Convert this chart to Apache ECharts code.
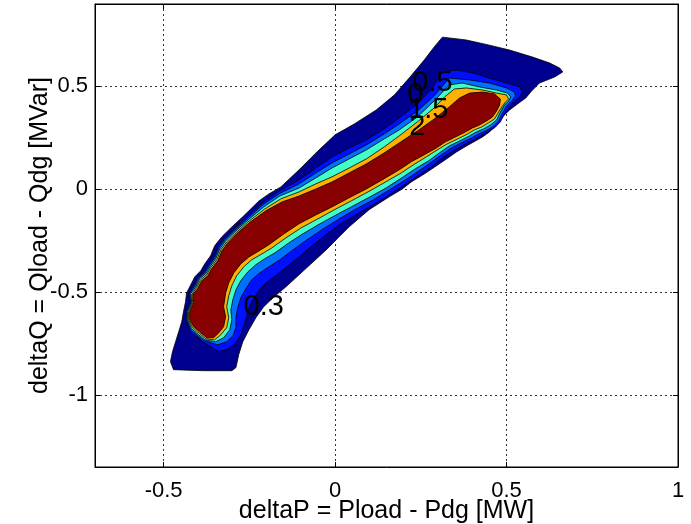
<!DOCTYPE html>
<html>
<head>
<meta charset="utf-8">
<script src="https://cdn.jsdelivr.net/npm/echarts@6/dist/echarts.min.js"></script>
<style>
  html, body { margin: 0; padding: 0; background: #fff; }
  #chart { width: 691px; height: 524px; }
</style>
</head>
<body>
<div id="chart"></div>
<script>
// tick positions
const xTicks = [-0.5, 0, 0.5, 1];
const yTicks = [-1, -0.5, 0, 0.5];

// filled contour regions, outermost first (deltaP, deltaQ)
const region03 = [[-0.471,-0.877],[-0.480,-0.838],[-0.474,-0.790],[-0.465,-0.741],[-0.456,-0.693],[-0.447,-0.644],[-0.442,-0.596],[-0.436,-0.547],[-0.433,-0.504],[-0.421,-0.465],[-0.409,-0.426],[-0.392,-0.397],[-0.380,-0.363],[-0.363,-0.324],[-0.351,-0.275],[-0.330,-0.231],[-0.304,-0.188],[-0.269,-0.134],[-0.222,-0.057],[-0.193,-0.023],[-0.158,0.011],[-0.105,0.094],[-0.053,0.181],[0.000,0.264],[0.056,0.317],[0.120,0.385],[0.173,0.458],[0.216,0.540],[0.260,0.628],[0.289,0.691],[0.313,0.739],[0.383,0.725],[0.450,0.700],[0.509,0.676],[0.576,0.642],[0.626,0.613],[0.655,0.589],[0.664,0.570],[0.640,0.545],[0.596,0.516],[0.573,0.477],[0.556,0.443],[0.532,0.414],[0.509,0.385],[0.488,0.351],[0.471,0.312],[0.450,0.278],[0.430,0.254],[0.409,0.234],[0.383,0.210],[0.354,0.181],[0.325,0.147],[0.295,0.113],[0.260,0.074],[0.222,0.035],[0.196,0.001],[0.158,-0.037],[0.099,-0.100],[0.041,-0.183],[0.012,-0.231],[-0.026,-0.295],[-0.067,-0.358],[-0.105,-0.416],[-0.143,-0.474],[-0.178,-0.523],[-0.208,-0.571],[-0.231,-0.625],[-0.251,-0.683],[-0.269,-0.741],[-0.281,-0.804],[-0.289,-0.867],[-0.301,-0.882],[-0.383,-0.882]];

const region05 = [[-0.386,-0.741],[-0.404,-0.717],[-0.424,-0.688],[-0.436,-0.635],[-0.436,-0.596],[-0.424,-0.552],[-0.427,-0.504],[-0.412,-0.465],[-0.401,-0.426],[-0.383,-0.401],[-0.371,-0.367],[-0.354,-0.329],[-0.342,-0.280],[-0.325,-0.241],[-0.298,-0.198],[-0.263,-0.144],[-0.213,-0.067],[-0.167,-0.013],[-0.105,0.045],[-0.056,0.103],[-0.009,0.157],[0.041,0.200],[0.091,0.239],[0.143,0.293],[0.187,0.346],[0.240,0.414],[0.284,0.492],[0.313,0.570],[0.354,0.579],[0.401,0.565],[0.450,0.540],[0.500,0.516],[0.538,0.497],[0.547,0.472],[0.538,0.448],[0.520,0.424],[0.509,0.400],[0.494,0.366],[0.482,0.327],[0.465,0.298],[0.444,0.278],[0.424,0.259],[0.404,0.239],[0.374,0.215],[0.345,0.186],[0.316,0.157],[0.284,0.113],[0.246,0.070],[0.211,0.031],[0.167,-0.018],[0.120,-0.067],[0.070,-0.115],[0.020,-0.164],[-0.023,-0.217],[-0.067,-0.275],[-0.105,-0.329],[-0.140,-0.377],[-0.170,-0.416],[-0.193,-0.445],[-0.216,-0.479],[-0.234,-0.523],[-0.249,-0.567],[-0.257,-0.615],[-0.266,-0.664],[-0.275,-0.707],[-0.289,-0.746],[-0.310,-0.775],[-0.339,-0.790]];

const region1 = [[-0.383,-0.736],[-0.401,-0.712],[-0.421,-0.683],[-0.433,-0.635],[-0.433,-0.596],[-0.421,-0.552],[-0.424,-0.508],[-0.409,-0.469],[-0.398,-0.431],[-0.380,-0.406],[-0.368,-0.372],[-0.351,-0.333],[-0.339,-0.285],[-0.322,-0.246],[-0.295,-0.202],[-0.260,-0.149],[-0.211,-0.076],[-0.164,-0.023],[-0.105,0.026],[-0.056,0.079],[-0.009,0.128],[0.041,0.171],[0.091,0.215],[0.143,0.268],[0.187,0.317],[0.240,0.380],[0.289,0.453],[0.333,0.540],[0.392,0.531],[0.450,0.516],[0.500,0.492],[0.523,0.472],[0.526,0.453],[0.515,0.429],[0.500,0.404],[0.488,0.370],[0.477,0.332],[0.459,0.302],[0.439,0.283],[0.418,0.268],[0.398,0.249],[0.368,0.225],[0.339,0.200],[0.310,0.167],[0.278,0.128],[0.240,0.084],[0.205,0.045],[0.158,-0.003],[0.111,-0.052],[0.061,-0.096],[0.012,-0.144],[-0.035,-0.193],[-0.082,-0.246],[-0.123,-0.295],[-0.161,-0.343],[-0.193,-0.377],[-0.219,-0.406],[-0.243,-0.440],[-0.260,-0.484],[-0.275,-0.528],[-0.284,-0.576],[-0.289,-0.625],[-0.289,-0.673],[-0.298,-0.712],[-0.316,-0.741],[-0.342,-0.756]];

const region15 = [[-0.380,-0.732],[-0.398,-0.707],[-0.418,-0.678],[-0.430,-0.635],[-0.430,-0.596],[-0.418,-0.552],[-0.421,-0.508],[-0.406,-0.474],[-0.395,-0.435],[-0.377,-0.411],[-0.365,-0.377],[-0.348,-0.338],[-0.336,-0.290],[-0.319,-0.251],[-0.292,-0.207],[-0.257,-0.154],[-0.208,-0.086],[-0.161,-0.033],[-0.105,0.006],[-0.056,0.055],[-0.009,0.103],[0.041,0.147],[0.091,0.191],[0.143,0.244],[0.187,0.288],[0.240,0.351],[0.289,0.429],[0.333,0.507],[0.371,0.516],[0.421,0.497],[0.471,0.482],[0.503,0.467],[0.512,0.448],[0.506,0.429],[0.494,0.409],[0.482,0.375],[0.471,0.336],[0.453,0.312],[0.433,0.293],[0.412,0.278],[0.392,0.259],[0.363,0.234],[0.333,0.210],[0.304,0.176],[0.272,0.137],[0.234,0.099],[0.199,0.060],[0.149,0.006],[0.102,-0.037],[0.053,-0.081],[0.003,-0.125],[-0.044,-0.168],[-0.094,-0.217],[-0.135,-0.261],[-0.175,-0.309],[-0.205,-0.338],[-0.231,-0.367],[-0.254,-0.401],[-0.275,-0.445],[-0.289,-0.489],[-0.298,-0.537],[-0.304,-0.586],[-0.301,-0.635],[-0.307,-0.683],[-0.325,-0.722],[-0.348,-0.741]];

const region2 = [[-0.377,-0.727],[-0.395,-0.702],[-0.415,-0.673],[-0.427,-0.635],[-0.427,-0.596],[-0.415,-0.552],[-0.418,-0.513],[-0.404,-0.479],[-0.392,-0.440],[-0.374,-0.416],[-0.363,-0.382],[-0.345,-0.343],[-0.333,-0.295],[-0.316,-0.256],[-0.289,-0.212],[-0.254,-0.159],[-0.205,-0.096],[-0.158,-0.047],[-0.105,-0.013],[-0.056,0.026],[-0.009,0.060],[0.041,0.103],[0.091,0.147],[0.143,0.205],[0.187,0.259],[0.240,0.327],[0.289,0.395],[0.319,0.448],[0.348,0.487],[0.383,0.492],[0.430,0.482],[0.471,0.467],[0.500,0.458],[0.506,0.438],[0.497,0.424],[0.488,0.404],[0.477,0.375],[0.465,0.341],[0.447,0.322],[0.427,0.302],[0.406,0.288],[0.386,0.268],[0.357,0.244],[0.327,0.220],[0.298,0.191],[0.266,0.157],[0.228,0.118],[0.193,0.079],[0.143,0.031],[0.096,-0.013],[0.047,-0.057],[-0.003,-0.101],[-0.050,-0.144],[-0.099,-0.188],[-0.143,-0.236],[-0.184,-0.285],[-0.213,-0.314],[-0.243,-0.343],[-0.266,-0.377],[-0.287,-0.421],[-0.301,-0.469],[-0.310,-0.518],[-0.316,-0.571],[-0.310,-0.625],[-0.316,-0.673],[-0.333,-0.707],[-0.351,-0.732]];

const region25 = [[-0.374,-0.722],[-0.392,-0.698],[-0.412,-0.668],[-0.424,-0.635],[-0.424,-0.596],[-0.412,-0.552],[-0.415,-0.513],[-0.401,-0.484],[-0.389,-0.445],[-0.371,-0.421],[-0.360,-0.387],[-0.342,-0.348],[-0.330,-0.300],[-0.313,-0.261],[-0.287,-0.217],[-0.251,-0.164],[-0.202,-0.105],[-0.155,-0.062],[-0.105,-0.033],[-0.056,0.001],[-0.009,0.035],[0.041,0.079],[0.091,0.123],[0.143,0.176],[0.187,0.225],[0.240,0.283],[0.289,0.341],[0.333,0.400],[0.363,0.443],[0.392,0.467],[0.430,0.472],[0.465,0.463],[0.482,0.438],[0.480,0.409],[0.471,0.380],[0.459,0.351],[0.442,0.332],[0.421,0.312],[0.401,0.298],[0.380,0.278],[0.351,0.254],[0.322,0.230],[0.295,0.200],[0.260,0.167],[0.222,0.133],[0.187,0.094],[0.137,0.045],[0.091,0.001],[0.041,-0.042],[-0.009,-0.086],[-0.056,-0.125],[-0.105,-0.168],[-0.149,-0.217],[-0.193,-0.270],[-0.222,-0.300],[-0.251,-0.329],[-0.275,-0.363],[-0.295,-0.406],[-0.310,-0.455],[-0.319,-0.504],[-0.325,-0.571],[-0.319,-0.620],[-0.325,-0.668],[-0.339,-0.698],[-0.354,-0.722]];

const regions = [region03, region05, region1, region15, region2, region25];
const regionColors = ['#00008f', '#0010ff', '#0070ff', '#40ffc8', '#ffb000', '#880000'];

// clabel texts as they sit in the plot
const labelX = [0.284, 0.234, 0.272, 0.240, -0.208];
const labelY = [0.516, 0.458, 0.385, 0.302, -0.571];
const labelText = ['0.5', '0', '1.5', '2', '0.3'];

const FONT = '"Liberation Sans", Arial, Helvetica, sans-serif';

const chart = echarts.init(document.getElementById('chart'));

const regionSeries = regions.map((pts, i) => ({
  type: 'custom',
  coordinateSystem: 'cartesian2d',
  silent: true,
  data: pts,
  renderItem: (params, api) => {
    if (params.dataIndex !== 0) return null;
    return {
      type: 'polygon',
      shape: { points: pts.map((p) => api.coord(p)) },
      style: { fill: regionColors[i], stroke: '#000', lineWidth: 0.8 },
    };
  },
}));

const labelSeries = {
  type: 'custom',
  coordinateSystem: 'cartesian2d',
  silent: true,
  data: labelX.map((x, i) => [x, labelY[i], labelText[i]]),
  renderItem: (params, api) => {
    const p = api.coord([api.value(0), api.value(1)]);
    return {
      type: 'text',
      x: p[0],
      y: p[1],
      style: {
        text: labelText[params.dataIndex],
        font: '29px ' + FONT,
        fill: '#000',
        textAlign: 'center',
        textVerticalAlign: 'middle',
      },
    };
  },
};

const gridLine = { show: true, lineStyle: { color: '#000', width: 0.8, type: [2, 3] } };

chart.setOption({
  animation: false,
  backgroundColor: '#fff',
  grid: {
    left: 95,
    right: 13,
    top: 4,
    bottom: 57,
    outerBoundsMode: 'none',
    containLabel: false,
    show: true,
    borderColor: '#000',
    borderWidth: 1,
    backgroundColor: '#fff',
  },
  xAxis: [
    {
      type: 'value',
      min: -0.7,
      max: 1,
      name: 'deltaP = Pload - Pdg [MW]',
      nameLocation: 'middle',
      nameGap: 32,
      nameMoveOverlap: false,
      nameTextStyle: { fontSize: 25, color: '#000', fontFamily: FONT },
      axisLine: { show: true, onZero: false, lineStyle: { color: '#000', width: 1 } },
      axisTick: { show: true, inside: true, length: 5, customValues: xTicks, lineStyle: { color: '#000' } },
      axisLabel: { customValues: xTicks, fontSize: 22, color: '#000', fontFamily: FONT, margin: 13 },
      splitLine: gridLine,
    },
    {
      type: 'value',
      position: 'top',
      min: -0.7,
      max: 1,
      axisLine: { show: true, onZero: false, lineStyle: { color: '#000', width: 1 } },
      axisTick: { show: true, inside: true, length: 5, customValues: xTicks, lineStyle: { color: '#000' } },
      axisLabel: { show: false },
      splitLine: { show: false },
    },
  ],
  yAxis: [
    {
      type: 'value',
      min: -1.35,
      max: 0.9,
      name: 'deltaQ = Qload - Qdg [MVar]',
      nameLocation: 'middle',
      nameGap: 42,
      nameMoveOverlap: false,
      nameTextStyle: { fontSize: 25, color: '#000', fontFamily: FONT },
      axisLine: { show: true, onZero: false, lineStyle: { color: '#000', width: 1 } },
      axisTick: { show: true, inside: true, length: 5, customValues: yTicks, lineStyle: { color: '#000' } },
      axisLabel: { customValues: yTicks, fontSize: 22, color: '#000', fontFamily: FONT, margin: 7 },
      splitLine: gridLine,
    },
    {
      type: 'value',
      position: 'right',
      min: -1.35,
      max: 0.9,
      axisLine: { show: true, onZero: false, lineStyle: { color: '#000', width: 1 } },
      axisTick: { show: true, inside: true, length: 5, customValues: yTicks, lineStyle: { color: '#000' } },
      axisLabel: { show: false },
      splitLine: { show: false },
    },
  ],
  series: [...regionSeries, labelSeries],
});
</script>
</body>
</html>
